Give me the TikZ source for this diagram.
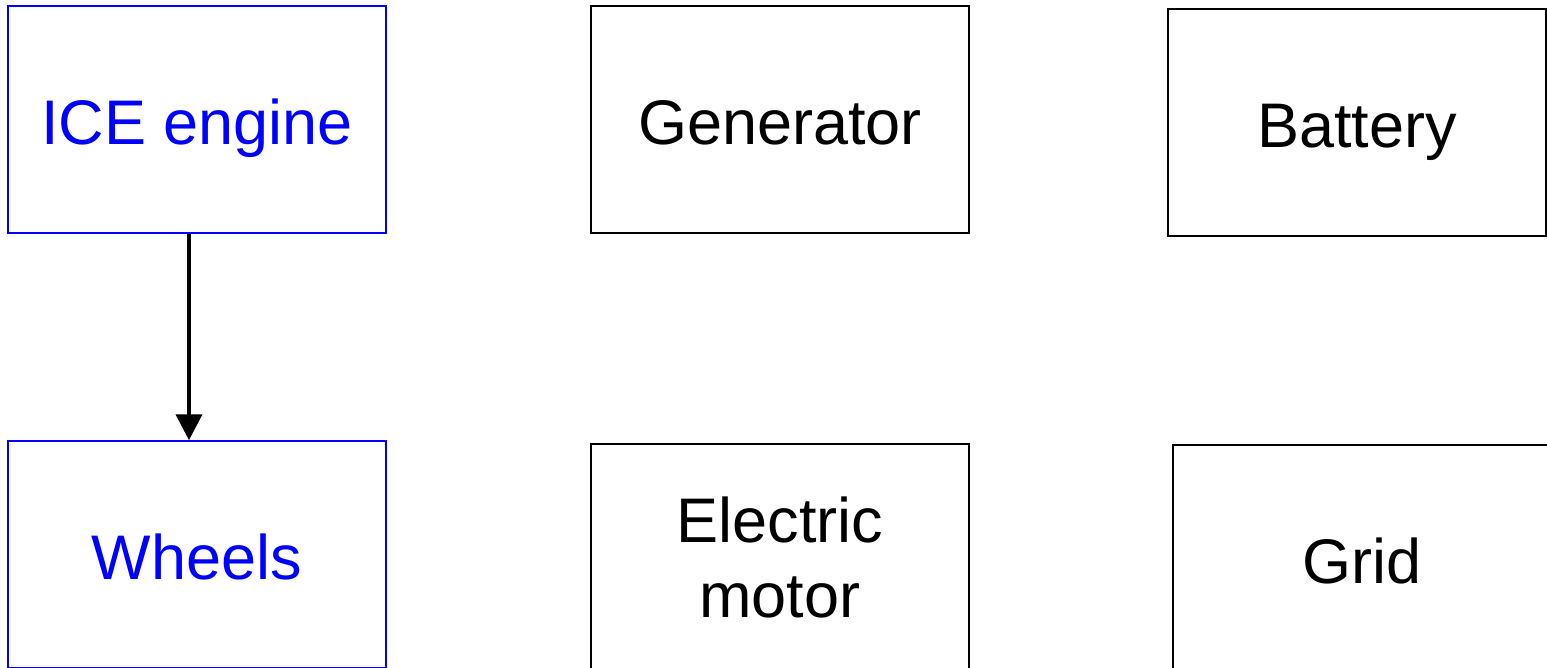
\documentclass[tikz,border=0pt]{standalone}
\usepackage{fontspec}
\setmainfont{Liberation Sans}
\usepackage{xcolor}
\usetikzlibrary{arrows.meta,positioning}
\definecolor{PureBlue}{HTML}{0000FF}
\tikzset{
  blackbox/.style={draw=black,line width=0.75pt,fill=white,align=center,
              minimum width=189pt,minimum height=113.5pt,inner sep=0pt,
              font=\fontsize{31.5}{37.5}\selectfont},
  bluebox/.style={blackbox,draw=PureBlue,text=PureBlue},
  oneline/.style={text height=25pt,text depth=0pt},
  flow/.style={-{Triangle[length=13pt,width=13pt]},line width=2pt,draw=black}
}
\begin{document}
\begin{tikzpicture}[x=0.5pt,y=-0.5pt]
  \clip (0,0) rectangle (1547,668);
  \useasboundingbox (0,0) rectangle (1547,668);
  \node[bluebox,oneline] (engine) at (197,119.5) {ICE engine};
  \node[blackbox,oneline] (gen) at (780,119.5) {Generator};
  \node[blackbox,oneline] (bat) at (1357,122.5) {Battery};
  \node[bluebox,oneline] (wheels) at (197,554.5) {Wheels};
  \node[blackbox] (motor) at (780,557.5) {Electric\\motor};
  \node[blackbox,oneline] (grid) at (1362,558.5) {Grid};
  \draw[flow] (engine.south -| 189,0) -- (wheels.north -| 189,0);
\end{tikzpicture}
\end{document}
